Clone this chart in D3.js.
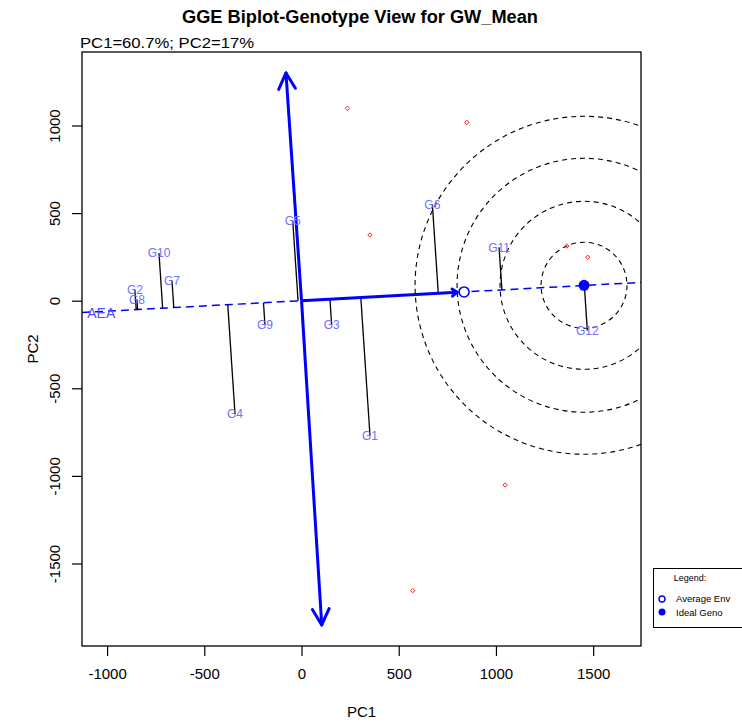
<!DOCTYPE html>
<html>
<head>
<meta charset="utf-8">
<script src="https://cdn.jsdelivr.net/npm/d3@7/dist/d3.min.js"></script>
<style>
html,body{margin:0;padding:0;background:#fff;overflow:hidden;}
svg{display:block;font-family:"Liberation Sans",Arial,Helvetica,sans-serif;}
</style>
</head>
<body>
<svg id="chart" width="742" height="722"></svg>
<script>
// ---- data ----
const genotypes = ["G1","G2","G3","G4","G5","G6","G7","G8","G9","G10","G11","G12"];
const genoPC1 = [352, -857, 155, -342, -45, 673, -666, -846, -188, -733, 1016, 1470];
const genoPC2 = [-768, 61, -139, -647, 455, 550, 112, 4, -139, 272, 305, -171];
const envPC1 = [236, 850, 352, 1364, 1472, 1047, 572];
const envPC2 = [1098, 1018, 375, 312, 248, -1052, -1655];
const avgEnv = [836, 50];
const idealGeno = [1453, 88];
const axisTop = [-80, 1300];
const axisBottom = [104, -1851];
const circleRadii = [221, 432, 653, 869];
const xTicks = [-1000, -500, 0, 500, 1000, 1500];
const yTicks = [-1500, -1000, -500, 0, 500, 1000];
const titleText = "GGE Biplot-Genotype View for GW_Mean";
const subText = "PC1=60.7%; PC2=17%";

// ---- layout ----
const L = 82, R = 641, T = 52, B = 646;
const x = d3.scaleLinear().domain([-1129, 1746]).range([L, R]);
const y = d3.scaleLinear().domain([1419.5, -1971]).range([T, B]);
const svg = d3.select("#chart");

svg.append("defs").append("clipPath").attr("id","clip")
  .append("rect").attr("x",L).attr("y",T).attr("width",R-L).attr("height",B-T);

const plot = svg.append("g").attr("clip-path","url(#clip)");

// AEA dashed line through origin
const slope = avgEnv[1]/avgEnv[0];
const xd = x.domain();
plot.append("line")
  .attr("x1", x(xd[0])).attr("y1", y(xd[0]*slope))
  .attr("x2", x(xd[1])).attr("y2", y(xd[1]*slope))
  .attr("stroke","#0000ff").attr("stroke-width",1.5).attr("stroke-dasharray","8,5");

// concentric circles around ideal genotype
plot.selectAll("circle.ring").data(circleRadii).join("circle")
  .attr("class","ring")
  .attr("cx", x(idealGeno[0])).attr("cy", y(idealGeno[1]))
  .attr("r", d => x(d) - x(0))
  .attr("fill","none").attr("stroke","#000").attr("stroke-width",1.1)
  .attr("stroke-dasharray","5,4");

// projection lines
const ux = avgEnv[0]/Math.hypot(avgEnv[0],avgEnv[1]);
const uy = avgEnv[1]/Math.hypot(avgEnv[0],avgEnv[1]);
const gdata = genotypes.map((g,i)=>({name:g, px:genoPC1[i], py:genoPC2[i]}));
plot.selectAll("line.proj").data(gdata).join("line")
  .attr("class","proj")
  .attr("x1", d=>x(d.px)).attr("y1", d=>y(d.py))
  .attr("x2", d=>{const t=d.px*ux+d.py*uy; return x(t*ux);})
  .attr("y2", d=>{const t=d.px*ux+d.py*uy; return y(t*uy);})
  .attr("stroke","#000").attr("stroke-width",1.3);

// arrows
function arrow(g, x1, y1, x2, y2, head, spread, w, shorten){
  const ang = Math.atan2(y2-y1, x2-x1);
  const ex = x2 - Math.cos(ang)*shorten, ey = y2 - Math.sin(ang)*shorten;
  g.append("line").attr("x1",x1).attr("y1",y1).attr("x2",ex).attr("y2",ey)
    .attr("stroke","#0000ff").attr("stroke-width",w).attr("stroke-linecap","butt");
  [spread, -spread].forEach(a=>{
    g.append("line").attr("x1",ex).attr("y1",ey)
      .attr("x2", ex - Math.cos(ang+a)*head).attr("y2", ey - Math.sin(ang+a)*head)
      .attr("stroke","#0000ff").attr("stroke-width",w).attr("stroke-linecap","round");
  });
}
arrow(plot, x(0), y(0), x(axisTop[0]), y(axisTop[1]), 18, Math.PI/6.5, 3, 0);
arrow(plot, x(0), y(0), x(axisBottom[0]), y(axisBottom[1]), 18, Math.PI/6.5, 3, 0);
arrow(plot, x(0), y(0), x(avgEnv[0]), y(avgEnv[1]), 6, Math.PI/5, 3, 7);

// environment points (red small diamonds)
const edata = envPC1.map((v,i)=>[v, envPC2[i]]);
plot.selectAll("path.env").data(edata).join("path")
  .attr("class","env")
  .attr("d", d=>{const cx=x(d[0]), cy=y(d[1]), s=2.2; return `M${cx},${cy-s}L${cx+s},${cy}L${cx},${cy+s}L${cx-s},${cy}Z`;})
  .attr("fill","none").attr("stroke","#ff2020").attr("stroke-width",1);

// avg env & ideal geno markers
plot.append("circle").attr("cx",x(avgEnv[0])).attr("cy",y(avgEnv[1])).attr("r",5)
  .attr("fill","#fff").attr("stroke","#0000ff").attr("stroke-width",1.6);
plot.append("circle").attr("cx",x(idealGeno[0])).attr("cy",y(idealGeno[1])).attr("r",5.5)
  .attr("fill","#0000ff");

// genotype labels
plot.selectAll("text.geno").data(gdata).join("text")
  .attr("class","geno")
  .attr("x", d=>x(d.px)).attr("y", d=>y(d.py)).attr("dy","0.36em")
  .attr("text-anchor","middle").attr("font-size",12).attr("fill","#6f6fff")
  .text(d=>d.name);

// AEA label
plot.append("text").attr("x", x(-1030)).attr("y", y(-1030*slope)).attr("dy","0.5em")
  .attr("text-anchor","middle").attr("font-size",14).attr("fill","#5050ff").text("AEA");

// box
svg.append("rect").attr("x",L).attr("y",T).attr("width",R-L).attr("height",B-T)
  .attr("fill","none").attr("stroke","#000").attr("stroke-width",1.3);

// axes
const xa = svg.append("g").attr("transform",`translate(0,${B})`)
  .call(d3.axisBottom(x).tickValues(xTicks).tickSize(10).tickPadding(12).tickFormat(d=>String(d)));
xa.select(".domain").remove();
xa.selectAll("text").attr("font-size",15).attr("fill","#000").attr("font-family","Liberation Sans, Arial, sans-serif");
xa.selectAll("line").attr("stroke","#000").attr("stroke-width",1.2);

const ya = svg.append("g").attr("transform",`translate(${L},0)`)
  .call(d3.axisLeft(y).tickValues(yTicks).tickSize(10).tickFormat(d=>String(d)));
ya.select(".domain").remove();
ya.selectAll("line").attr("stroke","#000").attr("stroke-width",1.2);
ya.selectAll("text").remove();
ya.selectAll(".tick").append("text")
  .attr("transform","translate(-22,0) rotate(-90)")
  .attr("text-anchor","middle").attr("font-size",15).attr("fill","#000")
  .attr("font-family","Liberation Sans, Arial, sans-serif")
  .text(d=>String(d));

// axis titles
svg.append("text").attr("x",(L+R)/2).attr("y",717).attr("text-anchor","middle")
  .attr("font-size",15).text("PC1");
svg.append("text").attr("transform",`translate(38,${(T+B)/2}) rotate(-90)`)
  .attr("text-anchor","middle").attr("font-size",15).text("PC2");

// title & subtitle
svg.append("text").attr("x",182).attr("y",23)
  .attr("font-size",18).attr("font-weight","bold")
  .attr("textLength",356).attr("lengthAdjust","spacingAndGlyphs").text(titleText);
svg.append("text").attr("x",80).attr("y",48).attr("font-size",15)
  .attr("textLength",174).attr("lengthAdjust","spacingAndGlyphs").text(subText);

// legend
const lg = svg.append("g");
lg.append("rect").attr("x",653.5).attr("y",568.5).attr("width",120).attr("height",59)
  .attr("fill","#fff").attr("stroke","#000").attr("stroke-width",1);
lg.append("text").attr("x",690).attr("y",581).attr("text-anchor","middle").attr("font-size",9).text("Legend:");
lg.append("circle").attr("cx",662).attr("cy",599).attr("r",3).attr("fill","none").attr("stroke","#0000ff").attr("stroke-width",1.4);
lg.append("text").attr("x",676).attr("y",602).attr("font-size",9.5).text("Average Env");
lg.append("circle").attr("cx",662).attr("cy",612).attr("r",3.5).attr("fill","#0000ff");
lg.append("text").attr("x",676).attr("y",615.5).attr("font-size",9.5).text("Ideal Geno");
</script>
</body>
</html>
